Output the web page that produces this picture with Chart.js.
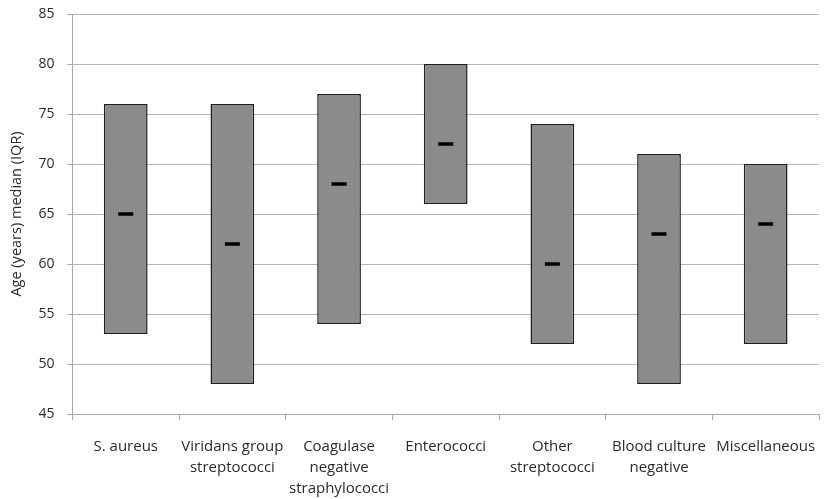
<!DOCTYPE html>
<html>
<head>
<meta charset="utf-8">
<script src="https://cdn.jsdelivr.net/npm/chart.js@4/dist/chart.umd.min.js"></script>
<style>
  html, body { margin: 0; padding: 0; background: #fff; }
  #wrap { width: 830px; height: 499px; }
</style>
</head>
<body>
<div id="wrap"><canvas id="iqr-chart"></canvas></div>
<script>
// Categories (organism groups)
const groups = [
    'S. aureus',
    ['Viridans group', 'streptococci'],
    ['Coagulase', 'negative', 'straphylococci'],
    'Enterococci',
    ['Other', 'streptococci'],
    ['Blood culture', 'negative'],
    'Miscellaneous'
];

// Age (years): lower quartile, upper quartile, median
const q1 = [53, 48, 54, 66, 52, 48, 52];
const q3 = [76, 76, 77, 80, 74, 71, 70];
const medians = [65, 62, 68, 72, 60, 63, 64];

// Y axis ticks
const yMin = 45;
const yMax = 85;
const yStep = 5;

const ctx = document.getElementById('iqr-chart').getContext('2d');

new Chart(ctx, {
    type: 'bar',
    data: {
        labels: groups,
        datasets: [{
            label: 'IQR',
            data: q1.map((lo, i) => [lo, q3[i]]),
            backgroundColor: '#8a8b8d',
            borderColor: '#1e1e1e',
            borderWidth: 1.5,
            borderSkipped: false,
            barPercentage: 0.41,
            categoryPercentage: 1.0,
            order: 2
        }, {
            type: 'line',
            label: 'Median',
            data: medians,
            showLine: false,
            pointStyle: 'line',
            pointRadius: 7.5,
            pointBorderWidth: 3.5,
            pointBorderColor: '#000',
            pointBackgroundColor: '#000',
            order: 1
        }]
    },
    options: {
        responsive: true,
        maintainAspectRatio: false,
        animation: false,
        layout: {
            padding: { top: 14, right: -4, bottom: 0, left: 8 }
        },
        plugins: {
            legend: { display: false },
            tooltip: { enabled: false }
        },
        scales: {
            x: {
                // long tick space for the label gap, only the first 5px drawn
                grid: {
                    offset: true,
                    drawOnChartArea: false,
                    drawTicks: true,
                    tickLength: 22,
                    tickBorderDash: [5, 40],
                    color: '#a8a8a8'
                },
                border: { color: '#a8a8a8', width: 1 },
                ticks: {
                    autoSkip: false,
                    maxRotation: 0,
                    minRotation: 0,
                    padding: 0,
                    color: '#2b2b2b',
                    font: { family: 'Open Sans', size: 15, lineHeight: 1.4 }
                }
            },
            y: {
                min: yMin,
                max: yMax,
                ticks: {
                    stepSize: yStep,
                    padding: 0,
                    color: '#2b2b2b',
                    font: { family: 'Open Sans', size: 14 }
                },
                // same trick: 18px of tick space, 5px visible next to the axis
                grid: {
                    color: '#b4b4b4',
                    lineWidth: 1,
                    tickLength: 18,
                    tickColor: '#a8a8a8',
                    tickBorderDash: [0, 13, 5, 0]
                },
                border: { color: '#a8a8a8', width: 1 },
                title: {
                    display: true,
                    text: 'Age (years) median (IQR)',
                    color: '#2b2b2b',
                    padding: { top: 0, bottom: 13 },
                    font: { family: 'Open Sans', size: 14.5 }
                }
            }
        }
    }
});
</script>
</body>
</html>
